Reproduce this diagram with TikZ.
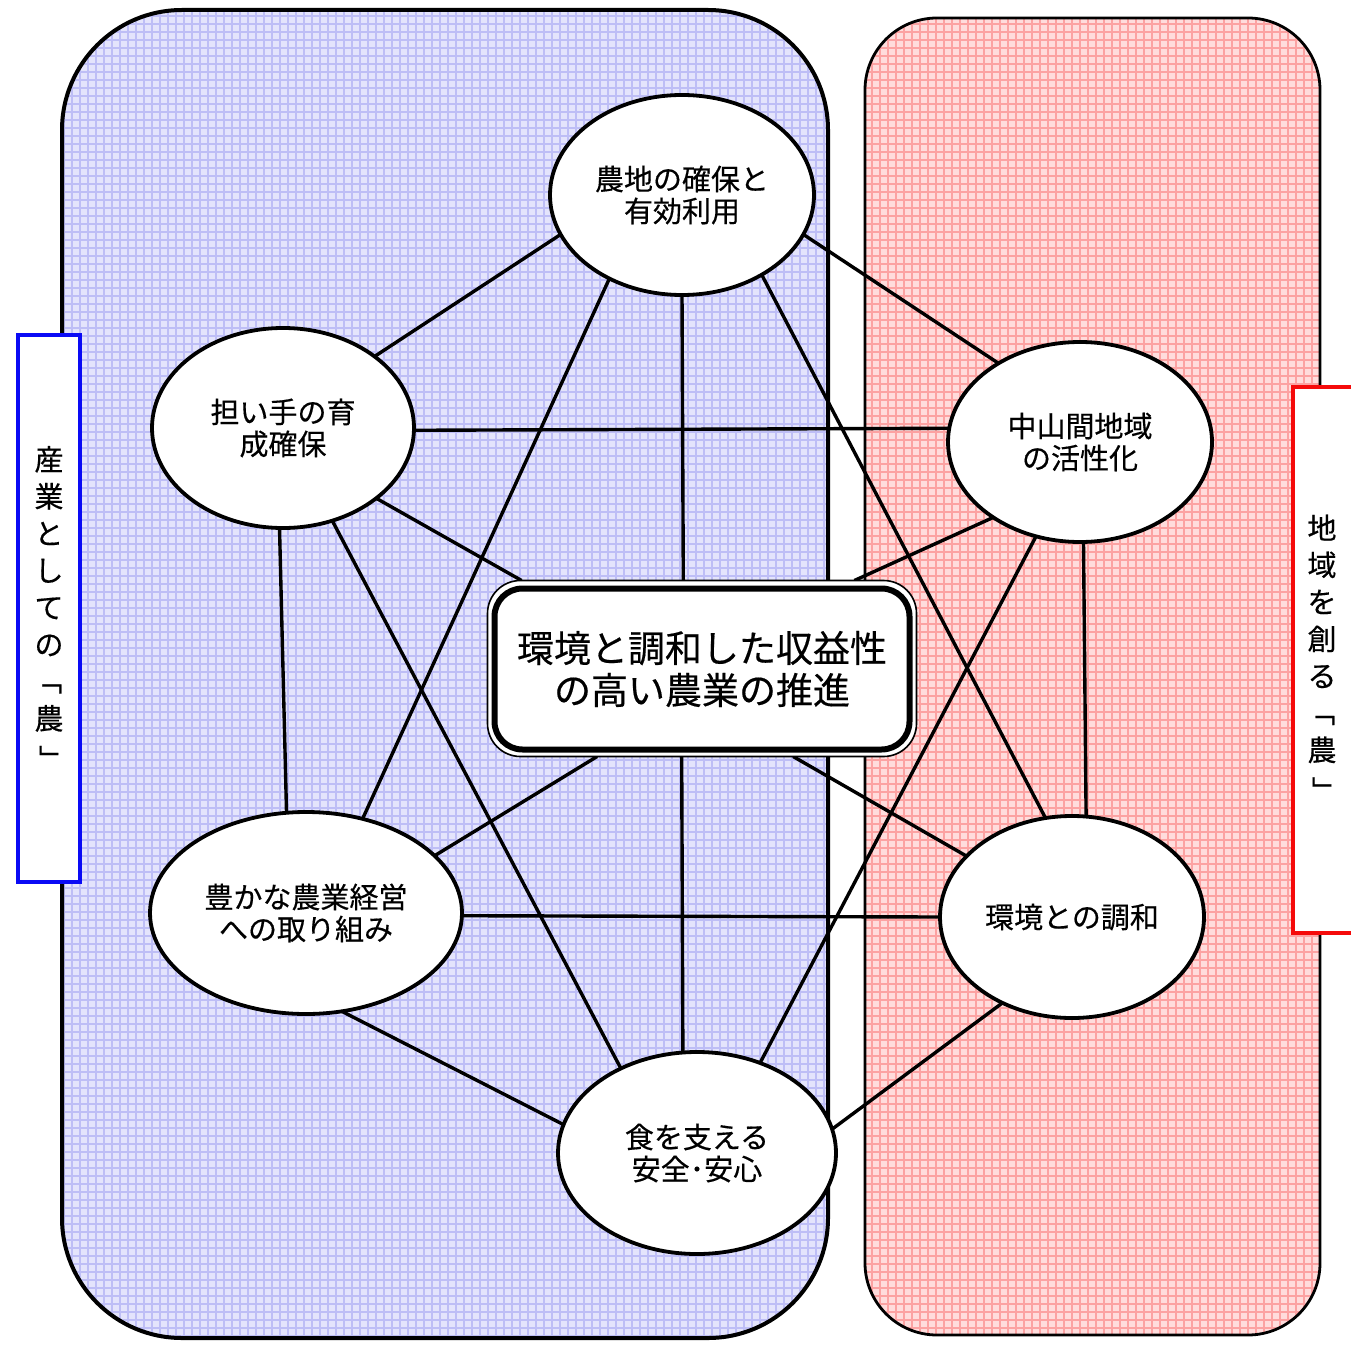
\documentclass[tikz,border=0pt]{standalone}
\usepackage{fontspec}
\setmainfont{Noto Sans CJK JP}[FakeBold=0.4]
\usetikzlibrary{shapes.geometric,backgrounds}
\definecolor{bluebase}{RGB}{228,228,252}
\definecolor{blueline}{RGB}{190,190,246}
\definecolor{redbase}{RGB}{255,220,220}
\definecolor{redline}{RGB}{252,162,162}
\definecolor{lblblue}{RGB}{10,10,245}
\definecolor{lblred}{RGB}{245,10,10}
\newcommand{\vopen}{\rotatebox[origin=c]{-90}{「}}
\newcommand{\vclose}{\rotatebox[origin=c]{-90}{」}}
\begin{document}
\begin{tikzpicture}[x=1pt,y=-1pt,
  topic/.style={ellipse, draw, line width=3.8pt, fill=white, inner sep=0pt, outer sep=0pt,
    align=center, font=\fontsize{29}{32}\selectfont},
  conn/.style={line width=3.4pt},
  sidebox/.style={draw, line width=3.2pt, fill=white, inner sep=0pt, outer sep=0pt},
  sidetext/.style={align=center, inner sep=0pt, font=\fontsize{29}{37}\selectfont}]
\useasboundingbox (0,0) rectangle (1351,1348);

% topic ellipses
\node[topic, minimum width=264pt, minimum height=200pt] (e1) at (682,195) {農地の確保と\\有効利用};
\node[topic, minimum width=262pt, minimum height=200pt] (e2) at (283,428) {担い手の育\\成確保};
\node[topic, minimum width=264pt, minimum height=200pt] (e3) at (1080,442) {中山間地域\\の活性化};
\node[topic, minimum width=312pt, minimum height=202pt] (e4) at (306,913) {豊かな農業経営\\への取り組み};
\node[topic, minimum width=264pt, minimum height=202pt] (e5) at (1072,917) {環境との調和};
\node[topic, minimum width=278pt, minimum height=202pt] (e6) at (697,1153) {食を支える\\安全･安心};

% centre box
\node[draw, line width=1.6pt, fill=white, rounded corners=33pt, minimum width=429pt,
  minimum height=176pt, inner sep=0pt, outer sep=0pt] (cbox) at (702,668.5) {};
\node[draw, line width=6pt, fill=white, rounded corners=28pt, minimum width=415pt,
  minimum height=161pt, inner sep=0pt, outer sep=0pt, align=center,
  font=\fontsize{37}{42}\selectfont] (c) at (702,669) {環境と調和した収益性\\の高い農業の推進};

\begin{pgfonlayer}{background}
  \fill[white] (0,0) rectangle (1351,1348);
  % left region with checked texture
  \begin{scope}
    \clip[rounded corners=120pt] (62,10) rectangle (828,1338);
    \fill[bluebase] (62,10) rectangle (828,1338);
    \draw[blueline, line width=2.6pt, step=8pt] (60,8) grid (830,1340);
  \end{scope}
  \draw[line width=4pt, rounded corners=120pt] (62,10) rectangle (828,1338);
  % right region with checked texture
  \begin{scope}
    \clip[rounded corners=72pt] (865,18) rectangle (1320,1335);
    \fill[redbase] (865,18) rectangle (1320,1335);
    \draw[redline, line width=2.2pt, step=8pt] (860,16) grid (1322,1337);
  \end{scope}
  \draw[line width=2.8pt, rounded corners=72pt] (865,18) rectangle (1320,1335);
  % connectors
  \draw[conn] (e1.198.6) -- (e2.38);
  \draw[conn] (e1.342) -- (e3.136.4);
  \draw[conn] (e1.270) -- (cbox.102.7);
  \draw[conn] (e1.229.7) -- (e4.59);
  \draw[conn] (e1.315) -- (e5.105.6);
  \draw[conn] (e2.-1) -- (e3.174.8);
  \draw[conn] (e2.268.3) -- (e4.101.2);
  \draw[conn] (e2.-37.7) -- (cbox.154.7);
  \draw[conn] (e2.298) -- (e6.132.2);
  \draw[conn] (e3.221.1) -- (cbox.30);
  \draw[conn] (e3.272.9) -- (e5.82.7);
  \draw[conn] (e3.245.3) -- (e6.55.3);
  \draw[conn] (e4.24.8) -- (cbox.220.1);
  \draw[conn] (e4.-1.5) -- (e5.180);
  \draw[conn] (e4.290.4) -- (e6.168.7);
  \draw[conn] (e5.150.4) -- (cbox.316.4);
  \draw[conn] (e5.231.5) -- (e6.10.8);
  \draw[conn] (e6.98.4) -- (cbox.257.3);
\end{pgfonlayer}

% side labels
\node[sidebox, draw=lblblue, minimum width=62pt, minimum height=547pt] (lbox) at (49,608.5) {};
\node[sidetext] (ltext) at (49,610) {産\\業\\と\\し\\て\\の\\\vopen\\農\\\vclose};
\node[sidebox, draw=lblred, minimum width=67pt, minimum height=546pt] (rbox) at (1326.5,660) {};
\node[sidetext] (rtext) at (1322,660) {地\\域\\を\\創\\る\\\vopen\\農\\\vclose};
\end{tikzpicture}
\end{document}
